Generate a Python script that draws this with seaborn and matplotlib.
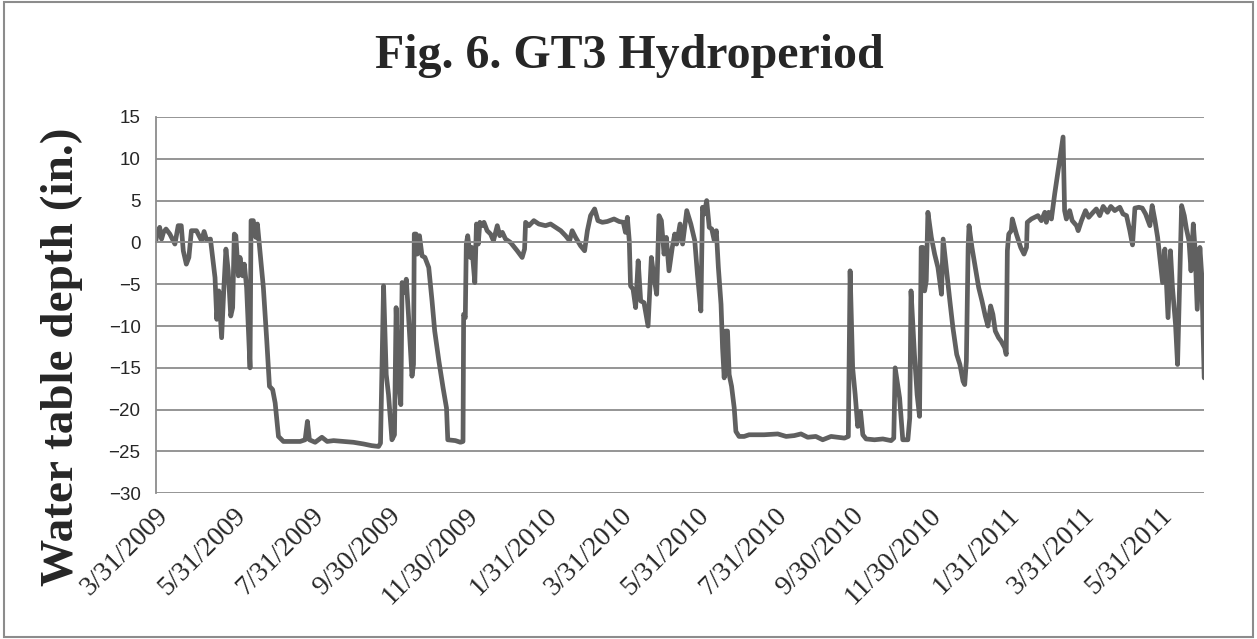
import numpy as np
import pandas as pd
import seaborn as sns
import matplotlib.pyplot as plt
import matplotlib.dates as mdates
from matplotlib.patches import Rectangle

# Readings are stored as days after the first reading (3/31/2009)
START = '2009-03-31'

day_offset = [
    0, 1, 3, 4.5, 6, 8, 11, 15, 17.6, 20, 21.6, 24, 26, 28, 32, 36, 38, 40, 43,
    46.6, 48, 49.6, 51.8, 53.6, 55.2, 57, 59, 60.5, 61.8, 63, 65, 66.3, 68.4,
    69.7, 71.5, 74.2, 75, 76.8, 78.7, 80, 82, 84.7, 87.4, 89.5, 92, 94, 96.6,
    100.5, 108, 113.7, 117.6, 119.4, 121, 125.5, 130.8, 135, 140, 148, 155.7,
    163.6, 170, 175.5, 177, 179.4, 181.5, 183.3, 186, 188, 189.3, 191, 193, 194,
    195.5, 197.3, 199, 201.8, 203, 203.6, 205, 206, 207.7, 209.7, 212, 215,
    217.6, 219.7, 223, 226.3, 229, 230, 236, 240, 242, 242.5, 243.8, 244.6,
    245.7, 247.8, 249, 251.3, 252.6, 254, 255.3, 257, 258.5, 261, 263.7, 266,
    269, 271, 273, 275.5, 279.4, 284.7, 288.6, 290.5, 291.3, 294, 297.8, 301.7,
    307, 311, 315, 319, 322.8, 326, 328, 330.7, 334.6, 337.8, 340, 342.5, 345.7,
    348.3, 351.8, 355.7, 361, 365, 368.3, 370, 371.5, 373, 374, 376, 378, 380,
    382, 384.6, 387.8, 390.4, 392.5, 394.6, 396.4, 398.3, 400.4, 402.2, 404.3,
    406.9, 408.8, 410.3, 413, 415, 418.3, 421.5, 424.6, 426.7, 429.4, 430.7,
    432, 434, 436, 438, 440, 441.6, 443.2, 445.3, 446.5, 447.8, 449.1, 450.4,
    451.7, 453.6, 455.7, 457, 459.5, 463.5, 467.4, 472, 479.3, 490, 496.6, 503,
    508.3, 513.6, 520, 525.4, 532, 537.3, 542.5, 545.6, 547, 549, 551, 553,
    555.2, 557, 559.6, 566.2, 572.8, 579.3, 581.4, 582.5, 586, 588.5, 592.5,
    594, 595, 597.7, 599.8, 601.7, 603, 604.4, 605.7, 607, 608.3, 611, 613.6,
    616.2, 619, 620.3, 623, 625.6, 628, 631, 633.5, 636, 637.3, 638.6, 640,
    640.7, 643, 645.2, 648.3, 650.9, 653.5, 655.6, 657.7, 659.5, 661.4, 664,
    666, 668.8, 670, 670.9, 672, 674, 674.8, 678, 681.4, 684, 686, 686.6, 689.8,
    692.4, 695, 697.7, 700.4, 701.6, 703.4, 705.6, 708.2, 714.8, 716, 717.4,
    720, 722, 725.4, 726.7, 729.3, 732.5, 735, 738.5, 741, 743.7, 746.4, 749.8,
    752.4, 755.5, 759.5, 762, 764.8, 767.4, 769.5, 771.4, 774.5, 777.2, 779.8,
    783.2, 785, 787.2, 789.3, 791, 793.2, 795, 797.5, 799.4, 801, 803.4, 805,
    808.2, 810.3, 812, 814, 815.6, 817.4, 818.7, 820.5, 822.6, 824, 826,
]

depth_in = [
    0.2, 1.0, 1.8, 0.4, 1.2, 1.6, 1.0, -0.2, 2.0, 2.0, -1.0, -2.6, -1.8, 1.4,
    1.4, 0.2, 1.3, 0.3, 0.4, -4.2, -9.2, -5.8, -11.4, -5.4, -0.8, -3.4, -8.8,
    -7.8, 1.0, 0.8, -4.0, -1.8, -4.0, -2.6, -5.4, -15.0, 2.6, 2.6, 0.6, 2.2,
    -1.0, -5.4, -11.8, -17.2, -17.6, -19.2, -23.2, -23.8, -23.8, -23.8, -23.6,
    -21.4, -23.6, -23.9, -23.3, -23.8, -23.7, -23.8, -23.9, -24.1, -24.3, -24.4,
    -24.0, -5.2, -15.8, -18.2, -23.6, -23.0, -7.8, -16.2, -19.4, -4.8, -6.0,
    -4.4, -8.6, -16.0, -14.6, 1.0, 1.0, -1.4, 0.8, -1.6, -1.8, -3.0, -7.0,
    -10.6, -14.2, -17.4, -19.8, -23.6, -23.7, -23.9, -23.8, -8.6, -9.0, -0.2,
    0.8, -1.8, -0.6, -4.8, 2.2, -0.2, 2.4, 2.0, 2.4, 1.4, 1.0, 0.2, 2.0, 0.8,
    1.2, 0.4, 0.0, -1.0, -1.8, -0.8, 2.4, 2.0, 2.6, 2.2, 2.0, 2.2, 1.8, 1.4,
    0.8, 0.2, 1.4, 0.6, -0.4, -1.0, 1.4, 3.2, 4.0, 2.6, 2.4, 2.5, 2.8, 2.5, 2.4,
    1.2, 3.0, 0.2, -5.2, -5.6, -7.8, -2.2, -7.0, -7.2, -10.0, -1.8, -4.2, -6.2,
    3.2, 2.6, -1.4, 0.6, -3.4, -0.6, 1.0, -0.2, 2.2, -0.2, 3.8, 2.2, 0.2, -3.8,
    -8.2, 4.2, 3.4, 5.0, 1.8, 1.6, 0.2, 1.4, -3.0, -7.4, -12.6, -16.2, -10.6,
    -10.6, -15.8, -17.2, -19.8, -22.6, -23.2, -23.2, -23.0, -23.0, -23.0, -22.9,
    -23.2, -23.1, -22.9, -23.3, -23.2, -23.6, -23.2, -23.3, -23.4, -23.2, -3.4,
    -15.0, -18.2, -22.0, -20.2, -23.0, -23.5, -23.6, -23.5, -23.7, -23.4, -15.0,
    -18.6, -23.6, -23.6, -21.0, -5.8, -13.4, -18.2, -20.8, -0.6, -0.6, -5.8,
    -4.6, 3.6, 0.6, -1.4, -3.0, -6.2, 0.4, -3.4, -7.0, -10.2, -13.4, -14.6,
    -16.6, -17.0, -14.2, -0.6, 2.0, -0.6, -2.6, -5.4, -7.0, -8.8, -10.0, -7.6,
    -8.6, -10.6, -11.4, -11.8, -12.6, -13.4, -1.0, 1.0, 1.4, 2.8, 1.0, -0.6,
    -1.4, -0.6, 2.4, 2.8, 3.0, 3.2, 2.6, 3.6, 2.4, 3.6, 2.8, 5.8, 12.6, 3.8,
    2.8, 3.8, 2.6, 2.0, 1.4, 2.6, 3.8, 3.0, 3.6, 4.0, 3.2, 4.3, 3.6, 4.3, 3.8,
    4.2, 3.4, 3.2, 1.4, -0.3, 4.1, 4.2, 4.1, 3.4, 2.0, 4.4, 2.6, 0.6, -1.8,
    -4.8, -0.8, -9.0, -1.0, -5.4, -9.8, -14.6, 4.4, 3.2, 1.6, 0.2, -3.4, 2.2,
    -0.6, -8.0, -0.6, -3.8, -16.2,
]

tick_labels = ['3/31/2009', '5/31/2009', '7/31/2009', '9/30/2009', '11/30/2009',
               '1/31/2010', '3/31/2010', '5/31/2010', '7/31/2010', '9/30/2010',
               '11/30/2010', '1/31/2011', '3/31/2011', '5/31/2011']
y_ticks = [15, 10, 5, 0, -5, -10, -15, -20, -25, -30]

df = pd.DataFrame({
    'date': pd.Timestamp(START) + pd.to_timedelta(day_offset, unit='D'),
    'depth': depth_in,
})
tick_dates = pd.to_datetime(tick_labels, format='%m/%d/%Y')

sns.set_style('white')
plt.rcParams['font.family'] = ['Liberation Serif', 'DejaVu Serif']

grey = '#8c8c8c'
fig = plt.figure(figsize=(12.57, 6.39), dpi=100)
ax = fig.add_axes([0.124, 0.228, 0.834, 0.589])

sns.lineplot(data=df, x='date', y='depth', color='#606060', linewidth=3.4,
             estimator=None, sort=False, ax=ax)

ax.set_xlim(df['date'].min(), df['date'].max())
ax.set_ylim(-30, 15)
ax.set_yticks(y_ticks)
ax.yaxis.grid(True, color=grey, linewidth=1.3)
ax.xaxis.grid(False)
ax.set_axisbelow(True)
ax.set_xlabel('')
ax.set_ylabel('')

for side in ['top', 'right']:
    ax.spines[side].set_visible(False)
ax.spines['left'].set_color(grey)
ax.spines['left'].set_linewidth(1.3)
# horizontal axis crosses at 0, labels stay at the bottom
ax.spines['bottom'].set_position(('data', 0))
ax.spines['bottom'].set_color(grey)
ax.spines['bottom'].set_linewidth(1.3)
ax.set_xticks(tick_dates)
ax.tick_params(axis='x', length=8, width=1.2, color=grey, labelbottom=False)
ax.tick_params(axis='y', length=6, width=1.2, color=grey, pad=5,
               labelsize=13.5, labelfontfamily='Liberation Sans')

sec = ax.secondary_xaxis('bottom')
sec.set_xticks(mdates.date2num(tick_dates), labels=tick_labels)
sec.tick_params(length=0, pad=7, labelsize=20)
sec.spines['bottom'].set_visible(False)
for t in sec.get_xticklabels():
    t.set_rotation(45)
    t.set_ha('right')
    t.set_rotation_mode('anchor')

fig.text(0.501, 0.913, 'Fig. 6. GT3 Hydroperiod', ha='center', va='center',
         fontsize=34.5, fontweight='bold')
fig.text(0.049, 0.441, 'Water table depth (in.)', ha='center', va='center',
         rotation=90, fontsize=34, fontweight='bold')

fig.add_artist(Rectangle((0.003, 0.003), 0.994, 0.994, transform=fig.transFigure,
                         fill=False, edgecolor=grey, linewidth=1.5))

fig.savefig('out.png', dpi=100)
